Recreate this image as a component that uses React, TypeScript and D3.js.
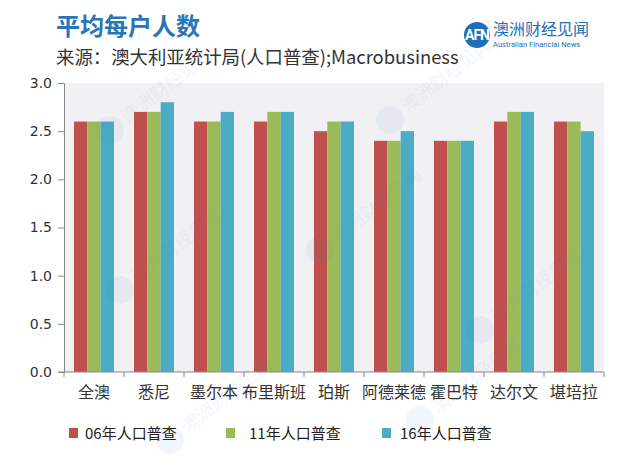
import React, { useRef, useEffect } from 'react';
import * as d3 from 'd3';

const cities = ['全澳', '悉尼', '墨尔本', '布里斯班', '珀斯', '阿德莱德', '霍巴特', '达尔文', '堪培拉'];
const seriesNames = ['06年人口普查', '11年人口普查', '16年人口普查'];
const census06 = [2.6, 2.7, 2.6, 2.6, 2.5, 2.4, 2.4, 2.6, 2.6];
const census11 = [2.6, 2.7, 2.6, 2.7, 2.6, 2.4, 2.4, 2.7, 2.6];
const census16 = [2.6, 2.8, 2.7, 2.7, 2.6, 2.5, 2.4, 2.7, 2.5];
const yTicks = [0, 0.5, 1, 1.5, 2, 2.5, 3];

const colors = ['#c0504d', '#9bbb59', '#4bacc6'];

export default function App() {
  const width = 640;
  const height = 470;
  const svgRef = useRef<SVGSVGElement>(null);

  useEffect(() => {
    if (!svgRef.current) return;
    const svg = d3.select(svgRef.current);
    svg.selectAll('*').remove();

    const cjk = '"Noto Sans CJK SC", "Noto Sans", sans-serif';
    const left = 64, right = 604, top = 83, bottom = 372;

    svg.append('rect').attr('width', width).attr('height', height).attr('fill', '#fff');

    // title & source
    svg.append('text').attr('x', 56).attr('y', 35)
      .attr('font-family', cjk).attr('font-size', 24).attr('font-weight', 'bold')
      .attr('fill', '#2a74b9').text('平均每户人数');
    svg.append('text').attr('x', 56).attr('y', 64)
      .attr('font-family', cjk).attr('font-size', 18.4).attr('fill', '#333')
      .text('来源：澳大利亚统计局(人口普查);Macrobusiness');

    // logo
    const logo = svg.append('g');
    logo.append('circle').attr('cx', 477).attr('cy', 35).attr('r', 13).attr('fill', '#1e6fb8');
    logo.append('text').attr('x', 477).attr('y', 40).attr('text-anchor', 'middle')
      .attr('font-family', 'Roboto, sans-serif').attr('font-size', 14).attr('font-weight', 'bold')
      .attr('fill', '#fff').attr('letter-spacing', -1).text('AFN');
    logo.append('text').attr('x', 493).attr('y', 35)
      .attr('font-family', cjk).attr('font-size', 16).attr('fill', '#1e6fb8').text('澳洲财经见闻');
    logo.append('text').attr('x', 493).attr('y', 47)
      .attr('font-family', 'Roboto, sans-serif').attr('font-size', 7.6).attr('fill', '#1e6fb8')
      .text('Australian Financial News');

    const x0 = d3.scaleBand<string>().domain(cities).range([left, right])
      .paddingInner(1 / 3).paddingOuter(1 / 6);
    const x1 = d3.scaleBand<number>().domain([0, 1, 2]).range([0, x0.bandwidth()]);
    const y = d3.scaleLinear().domain([0, 3]).range([bottom, top]);

    svg.append('rect').attr('x', left).attr('y', top).attr('width', right - left)
      .attr('height', bottom - top).attr('fill', '#f1f1f3');

    const series = [census06, census11, census16];
    const groups = svg.append('g').selectAll('g').data(cities).enter().append('g')
      .attr('transform', d => `translate(${x0(d)},0)`);
    groups.selectAll('rect')
      .data((_, i) => series.map((s, k) => ({ k, v: s[i] })))
      .enter().append('rect')
      .attr('x', d => x1(d.k) as number)
      .attr('width', x1.bandwidth())
      .attr('y', d => y(d.v))
      .attr('height', d => bottom - y(d.v))
      .attr('fill', d => colors[d.k]);

    // faint watermarks
    const wm = [[110, 130], [390, 120], [120, 290], [320, 250], [480, 330], [420, 420], [170, 440]];
    wm.forEach(([wx, wy]) => {
      const g = svg.append('g').attr('transform', `translate(${wx},${wy}) rotate(-38)`).attr('opacity', 0.06);
      g.append('circle').attr('cx', 0).attr('cy', 0).attr('r', 14).attr('fill', '#3a7cc0');
      g.append('text').attr('x', 18).attr('y', 6).attr('font-family', cjk).attr('font-size', 18)
        .attr('fill', '#3a7cc0').text('澳洲财经见闻');
    });

    // y axis
    const yAxis = svg.append('g').attr('transform', `translate(${left},0)`)
      .call(d3.axisLeft(y).tickValues(yTicks).tickFormat(d3.format('.1f')).tickSize(6).tickPadding(6));
    yAxis.select('.domain').attr('stroke', '#888');
    yAxis.selectAll('line').attr('stroke', '#888');
    yAxis.selectAll('text').attr('font-family', '"DejaVu Sans", sans-serif').attr('font-size', 14).attr('fill', '#333');

    // x axis
    const ticksX = d3.range(cities.length + 1).map(i => left + i * x0.step());
    svg.append('line').attr('x1', left - 6).attr('x2', right).attr('y1', bottom).attr('y2', bottom).attr('stroke', '#888');
    svg.append('g').selectAll('line').data(ticksX).enter().append('line')
      .attr('x1', d => d).attr('x2', d => d).attr('y1', bottom).attr('y2', bottom + 5).attr('stroke', '#888');
    svg.append('g').selectAll('text').data(cities).enter().append('text')
      .attr('x', d => (x0(d) as number) + x0.bandwidth() / 2).attr('y', 398)
      .attr('text-anchor', 'middle').attr('font-family', cjk).attr('font-size', 16).attr('fill', '#333')
      .text(d => d);

    // legend
    const legX = [69, 226, 382];
    const legTX = [85, 249, 400];
    seriesNames.forEach((n, i) => {
      svg.append('rect').attr('x', legX[i]).attr('y', 428).attr('width', 9).attr('height', 10).attr('fill', colors[i]);
      svg.append('text').attr('x', legTX[i]).attr('y', 439).attr('font-family', cjk).attr('font-size', 15)
        .attr('fill', '#222').text(n);
    });
  }, []);

  return (
    <svg ref={svgRef} width={width} height={height}
      style={{ position: 'absolute', left: 0, top: 0 }} />
  );
}
